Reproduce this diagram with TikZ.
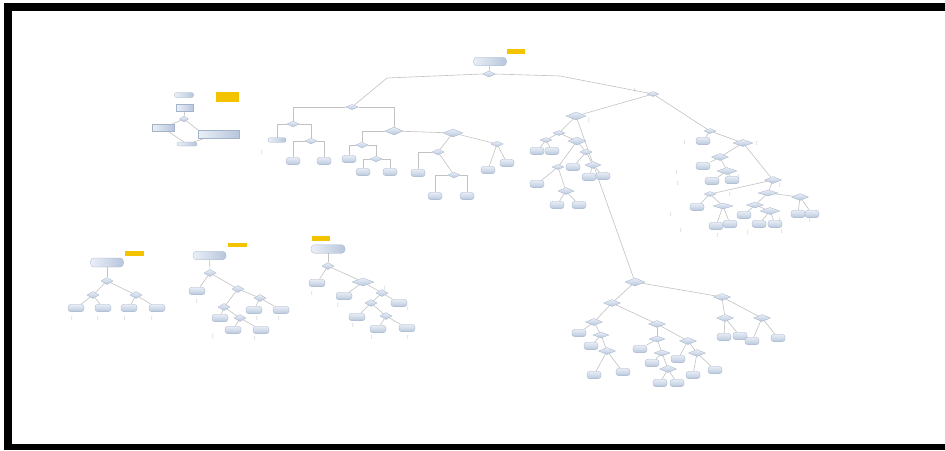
\documentclass[tikz,border=0pt]{standalone}
\usetikzlibrary{shapes.geometric,backgrounds}
\definecolor{lineC}{HTML}{C2C2C2}
\definecolor{edgeC}{HTML}{A3B3C9}
\definecolor{topC}{HTML}{EAEFF7}
\definecolor{botC}{HTML}{B7C6DC}
\definecolor{yelC}{HTML}{F3C300}
\definecolor{markC}{HTML}{9A9A9A}
\tikzset{
 ln/.style={draw=lineC, line width=0.6pt},
 ell/.style={rectangle, rounded corners=3pt, minimum width=14pt, minimum height=7.5pt, inner sep=0pt, draw=edgeC, line width=0.3pt, top color=topC, bottom color=botC},
 bell/.style={ell, minimum width=16pt},
 dia/.style={diamond, minimum width=12pt, minimum height=6pt, inner sep=0pt, draw=edgeC, line width=0.3pt, top color=topC, bottom color=botC},
 mdia/.style={dia, minimum width=17pt, minimum height=7pt},
 bdia/.style={dia, minimum width=20pt, minimum height=8pt},
 pill/.style={rectangle, rounded corners=3.5pt, minimum width=33pt, minimum height=8.5pt, inner sep=0pt, draw=edgeC, line width=0.3pt, left color=topC, right color=botC},
 box/.style={rectangle, inner sep=0pt, draw=edgeC, line width=0.3pt, left color=topC, right color=botC},
 yel/.style={rectangle, fill=yelC, inner sep=0pt, minimum width=18pt, minimum height=5pt},
 mk/.style={text=markC, font=\fontsize{4}{4}\selectfont, inner sep=0pt},
}
\begin{document}
\begin{tikzpicture}[x=1pt,y=-1pt]
\useasboundingbox (0,0) rectangle (945,450);
% frame
\fill[black] (4,3) rectangle (945,11);
\fill[black] (4,3) rectangle (12,450);
\fill[black] (4,444) rectangle (945,450);

% ---------- top-left flowchart ----------
\node[pill, minimum width=19pt, minimum height=5pt, rounded corners=2pt] (f1) at (184,95) {};
\node[yel, minimum width=23pt, minimum height=10pt] (fy) at (227.5,97) {};
\node[box, minimum width=17pt, minimum height=7pt] (f2) at (185,108) {};
\node[dia, minimum width=9pt, minimum height=6pt] (f3) at (184,119) {};
\node[box, minimum width=22pt, minimum height=7pt] (f4) at (163,128) {};
\node[box, minimum width=41pt, minimum height=8pt] (f5) at (218.5,134) {};
\node[pill, minimum width=20pt, minimum height=4pt, rounded corners=2pt] (f6) at (187,144) {};

% ---------- main tree ----------
\node[yel] (ry) at (516,51.5) {};
\node[pill] (r0) at (490,61.5) {};
\node[dia, minimum width=13pt] (r1) at (489,74) {};
\coordinate (wl) at (387,78);
\coordinate (wr) at (560,76);

% left branch
\node[dia, minimum width=13pt, minimum height=5pt] (A1) at (352,107) {};
\node[dia] (B1) at (293,124) {};
\node[bdia, minimum width=18pt] (B2) at (394,131) {};
\node[pill, minimum width=18pt, minimum height=4.5pt, rounded corners=2pt] (eB1) at (277,140) {};
\node[dia] (C1) at (311,141) {};
\node[ell] (eC1a) at (293,161) {};
\node[ell] (eC1b) at (324,161) {};
\node[mk] (m1) at (262,152) {[};
\node[dia] (C2) at (362,145) {};
\node[bdia] (C3) at (453,133) {};
\node[ell] (eC2) at (349,159) {};
\node[dia] (D2) at (376,159) {};
\node[ell] (eD2a) at (363,172) {};
\node[ell] (eD2b) at (390,172) {};
\node[dia] (D3) at (438,152) {};
\node[dia] (D4) at (497,144) {};
\node[ell] (eD3) at (418,173) {};
\node[dia] (E3) at (454,175) {};
\node[ell] (eE3a) at (435,196) {};
\node[ell] (eE3b) at (467,196) {};
\node[ell] (eD4a) at (488,170) {};
\node[ell] (eD4b) at (507,163) {};

% middle branch
\node[dia, minimum height=5pt] (M) at (653,94) {};
\node[mk] (m2) at (635,90) {[};
\node[bdia] (P1) at (576,116) {};
\node[mk] (m3) at (589,120) {[};
\node[dia, minimum height=5pt] (Q1) at (559,133) {};
\node[dia, minimum height=5pt] (Q2) at (546,140) {};
\node[ell] (eQ2a) at (537,151) {};
\node[ell] (eQ2b) at (552,151) {};
\node[mdia, minimum width=18pt, minimum height=8pt] (Q3) at (577,141) {};
\node[dia] (Q4) at (586,152) {};
\node[dia, minimum height=5pt] (Q5) at (558,167) {};
\node[ell] (eQ4) at (573,167) {};
\node[mdia, minimum width=16pt] (Q6) at (593,165) {};
\node[ell] (eQ6a) at (589,177) {};
\node[ell] (eQ6b) at (603,176) {};
\node[ell] (eQ5) at (537,184) {};
\node[mdia, minimum width=16pt] (Q7) at (566,191) {};
\node[ell] (eQ7a) at (557,205) {};
\node[ell] (eQ7b) at (579,205) {};

% lower right tree
\node[bdia] (R0) at (635,282) {};
\node[mdia] (S1) at (612,303) {};
\node[mdia] (S2) at (722,297) {};
\node[mdia] (T1) at (594,322) {};
\node[mdia] (T2) at (657,324) {};
\node[ell] (eT1) at (579,333) {};
\node[mdia, minimum width=16pt, minimum height=6pt] (T3) at (601,335) {};
\node[ell] (eT3) at (591,346) {};
\node[mdia] (T4) at (607,351) {};
\node[ell] (eT4a) at (594,375) {};
\node[ell] (eT4b) at (623,372) {};
\node[mdia, minimum width=16pt, minimum height=6pt] (T5) at (657,339) {};
\node[mdia] (T6) at (688,341) {};
\node[ell] (eT5) at (640,349) {};
\node[mdia, minimum width=16pt, minimum height=6pt] (T7) at (662,353) {};
\node[ell] (eT7) at (652,363) {};
\node[mdia] (T8) at (668,369) {};
\node[ell] (eT8a) at (660,383) {};
\node[ell] (eT8b) at (677,383) {};
\node[ell] (eT6) at (678,359) {};
\node[mdia] (T9) at (697,353) {};
\node[ell] (eT9a) at (693,375) {};
\node[ell] (eT9b) at (715,370) {};
\node[mdia] (U1) at (725,318) {};
\node[mdia] (U2) at (762,318) {};
\node[ell] (eU1a) at (724,337) {};
\node[ell] (eU1b) at (740,336) {};
\node[ell] (eU2a) at (752,341) {};
\node[ell] (eU2b) at (778,338) {};

% right branch
\node[dia, minimum height=5pt] (V1) at (710,131) {};
\node[ell] (eV1) at (703,141) {};
\node[mk] (m4) at (685,142) {[};
\node[bdia, minimum height=7pt] (V2) at (743,143) {};
\node[mk] (m5) at (757,143) {[};
\node[mdia] (V3) at (720,157) {};
\node[mdia] (V4) at (773,180) {};
\node[ell] (eV3) at (703,166) {};
\node[bdia, minimum height=7pt] (V5) at (727,171) {};
\node[ell] (eV5a) at (712,181) {};
\node[ell] (eV5b) at (732,180) {};
\node[mk] (m6) at (739,176) {[};
\node[mk] (m7) at (677,172) {[};
\node[mk] (m8) at (678,183) {[};
\node[mk] (m9) at (780,185) {[};
\node[dia, minimum height=5pt] (V6) at (710,194) {};
\node[bdia, minimum height=6pt] (V7) at (768,193) {};
\node[mdia] (V8) at (800,197) {};
\node[ell] (eV6) at (697,207) {};
\node[bdia, minimum height=6pt] (V9) at (723,206) {};
\node[ell] (eV9a) at (716,226) {};
\node[ell] (eV9b) at (730,224) {};
\node[mdia, minimum height=6pt] (V10) at (755,205) {};
\node[ell] (eV10) at (744,215) {};
\node[bdia, minimum height=7pt] (V11) at (770,211) {};
\node[ell] (eV11a) at (759,224) {};
\node[ell] (eV11b) at (775,224) {};
\node[ell] (eV8a) at (798,214) {};
\node[ell] (eV8b) at (812,214) {};
\node[mk] (m10) at (730,194) {[};
\node[mk] (m11) at (671,214) {[};
\node[mk] (m12) at (681,230) {[};
\node[mk] (m13) at (718,235) {[};
\node[mk] (m14) at (748,232) {[};
\node[mk] (m15) at (782,231) {[};
\node[mk] (m16) at (780,219) {[};
\node[mk] (m17) at (810,220) {[};

% ---------- bottom tree 1 ----------
\node[yel, minimum width=19pt] (ay) at (134.5,253) {};
\node[pill, minimum height=9pt] (a0) at (107,262.5) {};
\node[dia, minimum height=7pt] (a1) at (107,281) {};
\node[dia, minimum height=7pt] (a2) at (93,295) {};
\node[dia, minimum height=7pt] (a3) at (136,295) {};
\node[bell] (ea1) at (76,308) {};
\node[bell] (ea2) at (103,308) {};
\node[bell] (ea3) at (129,308) {};
\node[bell] (ea4) at (157,308) {};
\node[mk] (ma1) at (72,318) {[};
\node[mk] (ma2) at (98,318) {[};
\node[mk] (ma3) at (125,318) {[};
\node[mk] (ma4) at (152,318) {[};

% ---------- bottom tree 2 ----------
\node[yel, minimum width=19pt, minimum height=4.5pt] (by) at (237.5,245) {};
\node[pill] (b0) at (209.5,255.5) {};
\node[dia, minimum height=7pt] (b1) at (210,273) {};
\node[bell] (eb1) at (197,291) {};
\node[dia, minimum height=7pt] (b2) at (238,289) {};
\node[dia, minimum height=7pt] (b3) at (224,307) {};
\node[dia, minimum height=7pt] (b4) at (260,298) {};
\node[bell] (eb2) at (254,310) {};
\node[bell] (eb3) at (281,310) {};
\node[bell] (eb4) at (220,318) {};
\node[dia, minimum height=7pt] (b5) at (240,318) {};
\node[bell] (eb5) at (233,330) {};
\node[bell] (eb6) at (261,330) {};
\node[mk] (mb1) at (197,301) {[};
\node[mk] (mb2) at (213,336) {[};
\node[mk] (mb3) at (257,318) {[};
\node[mk] (mb4) at (279,318) {[};
\node[mk] (mb5) at (255,338) {[};

% ---------- bottom tree 3 ----------
\node[yel] (cy) at (321,238.5) {};
\node[pill, minimum width=34pt] (c0) at (328,249) {};
\node[dia, minimum height=7pt] (c1) at (328,266) {};
\node[bell] (ec1) at (317,283) {};
\node[bdia, minimum width=22pt] (c2) at (363,282) {};
\node[bell] (ec2) at (344,296) {};
\node[dia, minimum height=7pt] (c3) at (382,293) {};
\node[dia, minimum height=7pt] (c4) at (371,303) {};
\node[bell] (ec3) at (399,303) {};
\node[bell] (ec4) at (357,317) {};
\node[dia, minimum height=7pt] (c5) at (386,316) {};
\node[bell] (ec5) at (378,329) {};
\node[bell] (ec6) at (407,328) {};
\node[mk] (mc1) at (312,293) {[};
\node[mk] (mc2) at (338,305) {[};
\node[mk] (mc3) at (353,325) {[};
\node[mk] (mc4) at (372,337) {[};
\node[mk] (mc5) at (408,337) {[};
\node[mk] (mc6) at (408,308) {[};
\node[mk] (mc7) at (385,288) {[};

% ---------- connectors ----------
\begin{scope}[on background layer]
\fill[white] (12,11) rectangle (945,444);
\draw[ln] (f2) -- (f3);
\draw[ln] (f3) -- (f4);
\draw[ln] (f3) -- (f5.north west);
\draw[ln] (f4) -- (f6);
\draw[ln] (f5) -- (f6);

\draw[ln] (r0) -- (r1);
\draw[ln] (r1.west) -- (wl) -- (A1);
\draw[ln] (r1.east) -- (wr) -- (M);

\draw[ln] (A1.west) -| (B1);
\draw[ln] (A1.east) -| (B2);
\draw[ln] (B1.west) -| (eB1);
\draw[ln] (B1.east) -| (C1);
\draw[ln] (C1.west) -| (eC1a);
\draw[ln] (C1.east) -| (eC1b);
\draw[ln] (B2.west) -| (C2);
\draw[ln] (B2) -- (C3);
\draw[ln] (C2.west) -| (eC2);
\draw[ln] (C2.east) -| (D2);
\draw[ln] (D2.west) -| (eD2a);
\draw[ln] (D2.east) -| (eD2b);
\draw[ln] (C3) -- (D3);
\draw[ln] (C3) -- (D4);
\draw[ln] (D3.west) -| (eD3);
\draw[ln] (D3) -- (E3);
\draw[ln] (E3.west) -| (eE3a);
\draw[ln] (E3.east) -| (eE3b);
\draw[ln] (D4) -- (eD4a);
\draw[ln] (D4) -- (eD4b);

\draw[ln] (M) -- (P1);
\draw[ln] (P1) -- (Q1);
\draw[ln] (Q1) -- (Q2);
\draw[ln] (Q2) -- (eQ2a);
\draw[ln] (Q2) -- (eQ2b);
\draw[ln] (Q1) -- (Q3);
\draw[ln] (Q3) -- (Q4);
\draw[ln] (Q3) -- (Q5);
\draw[ln] (Q4) -- (eQ4);
\draw[ln] (Q4) -- (Q6);
\draw[ln] (Q6) -- (eQ6a);
\draw[ln] (Q6) -- (eQ6b);
\draw[ln] (Q5) -- (eQ5);
\draw[ln] (Q5) -- (Q7);
\draw[ln] (Q7) -- (eQ7a);
\draw[ln] (Q7) -- (eQ7b);
\draw[ln] (P1) -- (R0);

\draw[ln] (R0) -- (S1);
\draw[ln] (R0) -- (S2);
\draw[ln] (S1) -- (T1);
\draw[ln] (S1) -- (T2);
\draw[ln] (T1) -- (eT1);
\draw[ln] (T1) -- (T3);
\draw[ln] (T3) -- (eT3);
\draw[ln] (T3) -- (T4);
\draw[ln] (T4) -- (eT4a);
\draw[ln] (T4) -- (eT4b);
\draw[ln] (T2) -- (T5);
\draw[ln] (T2) -- (T6);
\draw[ln] (T5) -- (eT5);
\draw[ln] (T5) -- (T7);
\draw[ln] (T7) -- (eT7);
\draw[ln] (T7) -- (T8);
\draw[ln] (T8) -- (eT8a);
\draw[ln] (T8) -- (eT8b);
\draw[ln] (T6) -- (eT6);
\draw[ln] (T6) -- (T9);
\draw[ln] (T9) -- (eT9a);
\draw[ln] (T9) -- (eT9b);
\draw[ln] (S2) -- (U1);
\draw[ln] (S2) -- (U2);
\draw[ln] (U1) -- (eU1a);
\draw[ln] (U1) -- (eU1b);
\draw[ln] (U2) -- (eU2a);
\draw[ln] (U2) -- (eU2b);

\draw[ln] (M) -- (V1);
\draw[ln] (V1) -- (eV1);
\draw[ln] (V1) -- (V2);
\draw[ln] (V2) -- (V3);
\draw[ln] (V2) -- (V4);
\draw[ln] (V3) -- (eV3);
\draw[ln] (V3) -- (V5);
\draw[ln] (V5) -- (eV5a);
\draw[ln] (V5) -- (eV5b);
\draw[ln] (V4) -- (V6);
\draw[ln] (V4) -- (V7);
\draw[ln] (V7) -- (V8);
\draw[ln] (V6) -- (eV6);
\draw[ln] (V6) -- (V9);
\draw[ln] (V9) -- (eV9a);
\draw[ln] (V9) -- (eV9b);
\draw[ln] (V7) -- (V10);
\draw[ln] (V10) -- (eV10);
\draw[ln] (V10) -- (V11);
\draw[ln] (V11) -- (eV11a);
\draw[ln] (V11) -- (eV11b);
\draw[ln] (V8) -- (eV8a);
\draw[ln] (V8) -- (eV8b);

\draw[ln] (a0) -- (a1);
\draw[ln] (a1) -- (a2);
\draw[ln] (a1) -- (a3);
\draw[ln] (a2) -- (ea1);
\draw[ln] (a2) -- (ea2);
\draw[ln] (a3) -- (ea3);
\draw[ln] (a3) -- (ea4);

\draw[ln] (b0) -- (b1);
\draw[ln] (b1) -- (eb1);
\draw[ln] (b1) -- (b2);
\draw[ln] (b2) -- (b3);
\draw[ln] (b2) -- (b4);
\draw[ln] (b4) -- (eb2);
\draw[ln] (b4) -- (eb3);
\draw[ln] (b3) -- (eb4);
\draw[ln] (b3) -- (b5);
\draw[ln] (b5) -- (eb5);
\draw[ln] (b5) -- (eb6);

\draw[ln] (c0) -- (c1);
\draw[ln] (c1) -- (ec1);
\draw[ln] (c1) -- (c2);
\draw[ln] (c2) -- (ec2);
\draw[ln] (c2) -- (c3);
\draw[ln] (c3) -- (c4);
\draw[ln] (c3) -- (ec3);
\draw[ln] (c4) -- (ec4);
\draw[ln] (c4) -- (c5);
\draw[ln] (c5) -- (ec5);
\draw[ln] (c5) -- (ec6);
\end{scope}
\end{tikzpicture}
\end{document}
